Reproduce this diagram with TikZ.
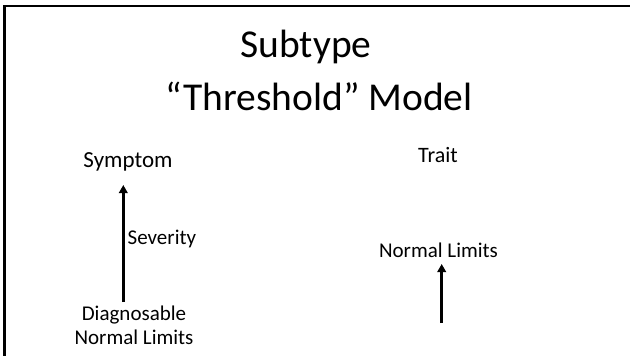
\documentclass[tikz,border=0pt]{standalone}
\usepackage{fontspec}
\setmainfont{Carlito}
\usetikzlibrary{arrows.meta}
\begin{document}
\begin{tikzpicture}[x=1pt, y=-1pt,
		txt/.style={inner sep=0pt, anchor=base, font=\fontsize{21}{25}\selectfont},
		ttl/.style={inner sep=0pt, anchor=base, font=\fontsize{39.5}{46}\selectfont},
		arr/.style={line width=2.6pt, -{Triangle[width=8.5pt,length=8pt]}}]
		\useasboundingbox (0,0) rectangle (630,356);
		% frame, only top and left edge show
		\draw[line width=2.4pt] (4.5,356) -- (4.5,6) -- (630,6);
		% title
		\node[ttl] (sub) at (306,57) {Subtype};
		\node[ttl] (thr) at (319,110) {“Threshold” Model};
		% symptom side
		\node[txt, font=\fontsize{23}{27}\selectfont] (symp) at (128,167) {Symptom};
		\node[txt, anchor=base west] (sev) at (127.5,244) {Severity};
		\node[txt] (diag) at (134,320) {Diagnosable};
		\node[txt] (norm1) at (134,344) {Normal Limits};
		\coordinate (s0) at (123.3,302);
		\coordinate (s1) at (123.3,185);
		\draw[arr] (s0) -- (s1);
		% trait side
		\node[txt, font=\fontsize{22}{26}\selectfont] (trait) at (438,162) {Trait};
		\node[txt] (norm2) at (438.5,257) {Normal Limits};
		\coordinate (t0) at (441.7,323);
		\coordinate (t1) at (441.7,264);
		\draw[arr] (t0) -- (t1);
\end{tikzpicture}
\end{document}
